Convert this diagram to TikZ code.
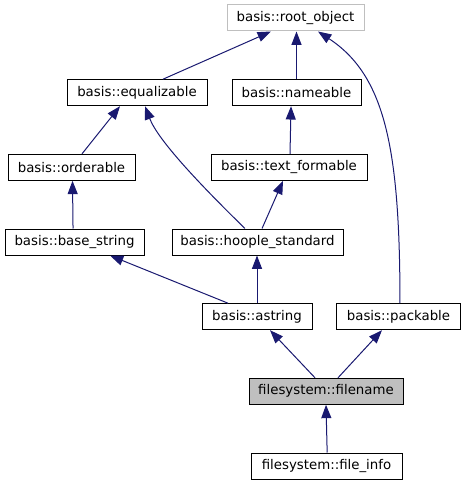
\documentclass[tikz,border=0pt]{standalone}
\usepackage{fontspec}
\setmainfont{DejaVu Sans}
\usetikzlibrary{arrows.meta}
\definecolor{edgeblue}{RGB}{25,25,112}
\definecolor{boxgray}{RGB}{191,191,191}
\tikzstyle{classbox} = [draw,line width=0.75pt,fill=white,text centered,
	minimum height=19.5pt,inner sep=0pt,font=\fontsize{10}{12}\selectfont]
\tikzstyle{arrow} = [draw=edgeblue,line width=0.75pt,-{Triangle[length=10pt,width=7.5pt]}]

\begin{document}
\begin{tikzpicture}[x=0.75pt,y=-0.75pt]
	\useasboundingbox (0,0) rectangle (465,485);

	\node[classbox,draw=boxgray,minimum width=102.75pt] (rootobj) at (295.5,18) {basis::root\_object};

	\node[classbox,minimum width=105pt] (equalizable) at (137,92.7) {basis::equalizable};
	\node[classbox,minimum width=96.75pt] (nameable) at (296.5,92.7) {basis::nameable};

	\node[classbox,minimum width=95.25pt] (orderable) at (71.5,167.3) {basis::orderable};
	\node[classbox,minimum width=117pt] (textformable) at (289,167.3) {basis::text\_formable};

	\node[classbox,minimum width=104.25pt] (basestring) at (74.5,242) {basis::base\_string};
	\node[classbox,minimum width=128.25pt] (hoople) at (257.5,242) {basis::hoople\_standard};

	\node[classbox,minimum width=82.5pt] (astring) at (257,316.7) {basis::astring};
	\node[classbox,minimum width=93pt] (packable) at (398.5,316.7) {basis::packable};

	\node[classbox,fill=boxgray,minimum width=115.5pt] (filename) at (326,391.3) {filesystem::filename};

	\node[classbox,minimum width=113.25pt] (fileinfo) at (326.5,466) {filesystem::file\_info};

	% Arrows
	\draw[arrow] ([xshift=19.5pt]equalizable.north) -- ([xshift=-18.4pt]rootobj.south);
	\draw[arrow] (nameable.north) -- (nameable.north |- rootobj.south);
	\draw[arrow] ([xshift=1.1pt]packable.north) .. controls +(0,-155) and +(67,44) .. ([xshift=16.9pt]rootobj.south);
	\draw[arrow] ([xshift=7.9pt]orderable.north) -- ([xshift=-12.75pt]equalizable.south);
	\draw[arrow] ([xshift=-9.4pt]hoople.north) .. controls +(-45,-44) and +(13,34) .. ([xshift=6pt]equalizable.south);
	\draw[arrow] ([xshift=0.75pt]textformable.north) -- ([xshift=-4.1pt]nameable.south);
	\draw[arrow] ([xshift=-1.1pt]basestring.north) -- ([xshift=0.75pt]orderable.south);
	\draw[arrow] ([xshift=3.4pt]hoople.north) -- ([xshift=-4.5pt]textformable.south);
	\draw[arrow] ([xshift=-21.75pt]astring.north) -- ([xshift=26.6pt]basestring.south);
	\draw[arrow] (astring.north) -- (astring.north |- hoople.south);
	\draw[arrow] ([xshift=-8.25pt]filename.north) -- ([xshift=9.75pt]astring.south);
	\draw[arrow] ([xshift=9pt]filename.north) -- ([xshift=-12.4pt]packable.south);
	\draw[arrow] ([xshift=0.5pt]fileinfo.north) -- (filename.south);
\end{tikzpicture}
\end{document}
